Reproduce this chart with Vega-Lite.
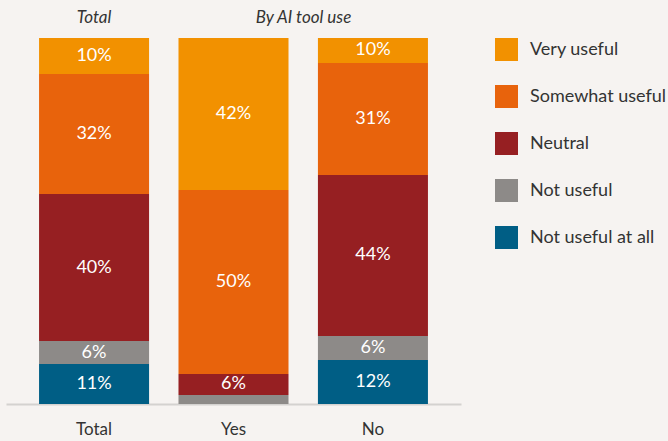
{
  "$schema": "https://vega.github.io/schema/vega-lite/v6.json",
  "width": 455,
  "height": 366,
  "autosize": {"type": "none"},
  "padding": {"left": 6, "top": 38, "right": 207, "bottom": 37},
  "background": "#f6f3f1",
  "config": {"view": {"stroke": null}, "font": "Lato", "text": {"font": "Lato"}},
  "data": {
    "values": [
      {"group": "Total", "response": "Very useful", "rank": 5, "share": 9.84, "label": "10%"},
      {"group": "Total", "response": "Somewhat useful", "rank": 4, "share": 32.79, "label": "32%"},
      {"group": "Total", "response": "Neutral", "rank": 3, "share": 40.16, "label": "40%"},
      {"group": "Total", "response": "Not useful", "rank": 2, "share": 6.28, "label": "6%"},
      {"group": "Total", "response": "Not useful at all", "rank": 1, "share": 10.93, "label": "11%"},
      {"group": "Yes", "response": "Very useful", "rank": 5, "share": 41.53, "label": "42%"},
      {"group": "Yes", "response": "Somewhat useful", "rank": 4, "share": 50.27, "label": "50%"},
      {"group": "Yes", "response": "Neutral", "rank": 3, "share": 5.74, "label": "6%"},
      {"group": "Yes", "response": "Not useful", "rank": 2, "share": 2.46, "label": ""},
      {"group": "No", "response": "Very useful", "rank": 5, "share": 6.83, "label": "10%"},
      {"group": "No", "response": "Somewhat useful", "rank": 4, "share": 30.6, "label": "31%"},
      {"group": "No", "response": "Neutral", "rank": 3, "share": 43.99, "label": "44%"},
      {"group": "No", "response": "Not useful", "rank": 2, "share": 6.56, "label": "6%"},
      {"group": "No", "response": "Not useful at all", "rank": 1, "share": 12.02, "label": "12%"}
    ]
  },
  "encoding": {
    "x": {
      "field": "group",
      "type": "nominal",
      "sort": ["Total", "Yes", "No"],
      "scale": {"paddingInner": 0.211, "paddingOuter": 0.237},
      "axis": {
        "title": null,
        "labelAngle": 0,
        "ticks": false,
        "tickSize": 0,
        "domainColor": "#d4d2d0",
        "domainWidth": 2,
        "labelFontSize": 17,
        "labelFont": "Lato",
        "labelColor": "#333333",
        "labelBaseline": "alphabetic",
        "labelPadding": 30
      }
    }
  },
  "layer": [
    {
      "mark": {"type": "bar"},
      "encoding": {
        "y": {"field": "share", "type": "quantitative", "stack": "normalize", "scale": {"domain": [0, 1], "nice": false}, "axis": null},
        "color": {
          "field": "response",
          "type": "nominal",
          "scale": {
            "domain": ["Very useful", "Somewhat useful", "Neutral", "Not useful", "Not useful at all"],
            "range": ["#f29100", "#e8630c", "#961f22", "#8d8a88", "#005e85"]
          },
          "legend": {
            "title": null,
            "orient": "right",
            "offset": 34,
            "padding": 0,
            "symbolType": "square",
            "symbolSize": 529,
            "symbolStrokeWidth": 0,
            "symbolOpacity": 1,
            "labelFontSize": 18,
            "labelFont": "Lato",
            "labelColor": "#333333",
            "labelOffset": 12,
            "rowPadding": 24
          }
        },
        "order": {"field": "rank", "type": "quantitative"}
      }
    },
    {
      "mark": {"type": "text", "color": "#ffffff", "fontSize": 18, "baseline": "middle"},
      "encoding": {
        "y": {"field": "share", "type": "quantitative", "stack": "normalize", "bandPosition": 0.5},
        "detail": {"field": "response"},
        "order": {"field": "rank", "type": "quantitative"},
        "text": {"field": "label"}
      }
    },
    {
      "data": {"values": [{"h": "Total"}]},
      "mark": {"type": "text", "fontStyle": "italic", "fontSize": 17, "color": "#333333", "baseline": "alphabetic"},
      "encoding": {
        "x": {"datum": "Total", "type": "nominal"},
        "y": {"datum": 1.04, "type": "quantitative"},
        "text": {"field": "h"}
      }
    },
    {
      "data": {"values": [{"h": "By AI tool use"}]},
      "mark": {"type": "text", "fontStyle": "italic", "fontSize": 17, "color": "#333333", "baseline": "alphabetic"},
      "encoding": {
        "x": {"datum": "Yes", "type": "nominal", "bandPosition": 1.136},
        "y": {"datum": 1.04, "type": "quantitative"},
        "text": {"field": "h"}
      }
    }
  ]
}
